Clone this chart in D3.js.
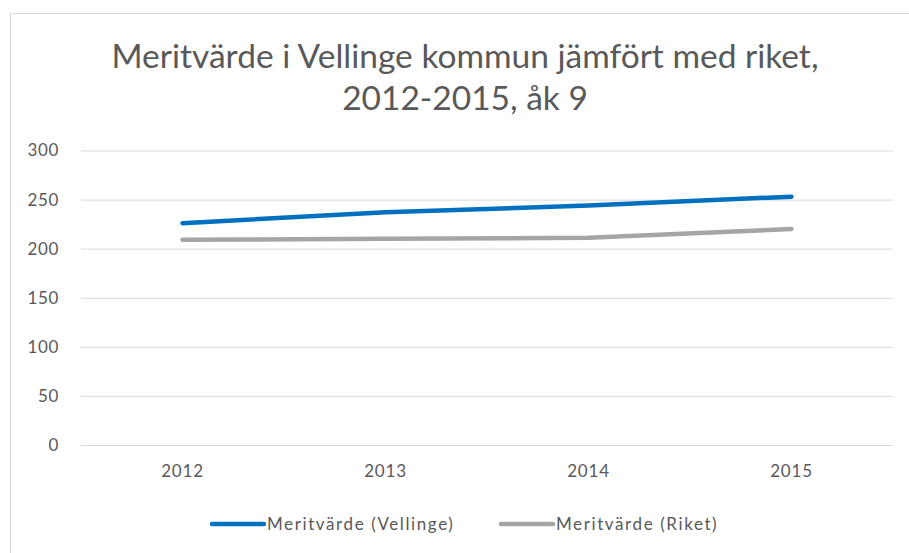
<!DOCTYPE html>
<html>
<head>
<meta charset="utf-8">
<title>Meritvärde</title>
<style>
body { margin: 0; background: #fff; }
svg text { font-family: Lato, "Open Sans", sans-serif; }
</style>
</head>
<body>
<svg width="909" height="553"></svg>
<script src="https://d3js.org/d3.v7.min.js"></script>
<script>
// data
var years = ["2012", "2013", "2014", "2015"];
var vellinge = [226, 237, 244, 253];
var riket = [209, 210, 211, 220];
var yTicks = [0, 50, 100, 150, 200, 250, 300];
var titleLines = ["Meritvärde  i Vellinge kommun jämfört med riket,", "2012-2015, åk 9"];
var seriesNames = ["Meritvärde (Vellinge)", "Meritvärde (Riket)"];
var seriesColors = ["#0070c0", "#a5a5a5"];

var svg = d3.select("svg");

// chart frame
svg.append("rect")
    .attr("x", 10.5).attr("y", 13.5)
    .attr("width", 950).attr("height", 600)
    .style("fill", "#fff")
    .style("stroke", "#d9d9d9");

var x = d3.scaleBand().domain(years).range([81, 893]);
var y = d3.scaleLinear().domain([0, 300]).range([445, 150.5]);

// title
svg.selectAll(".title")
    .data(titleLines)
    .enter()
    .append("text")
    .attr("class", "title")
    .attr("x", 465)
    .attr("y", (d, i) => 68 + i * 42)
    .attr("text-anchor", "middle")
    .style("font-size", "33.5px")
    .style("fill", "#595959")
    .text(d => d);

// gridlines + y labels
var yAxis = d3.axisLeft(y).tickValues(yTicks).tickSize(-(893 - 81)).tickPadding(22);
var gy = svg.append("g").attr("transform", "translate(81,0)").call(yAxis);
gy.select(".domain").remove();
gy.selectAll(".tick line").style("stroke", "#d9d9d9").style("stroke-width", 1);
gy.selectAll(".tick text")
    .style("font-size", "17px")
    .style("letter-spacing", "0.6px")
    .style("fill", "#595959")
    .style("font-family", "Lato, sans-serif");

// x labels
var xAxis = d3.axisBottom(x).tickSize(0).tickPadding(20);
var gx = svg.append("g").attr("transform", "translate(0,445)").call(xAxis);
gx.select(".domain").remove();
gx.selectAll(".tick text")
    .style("font-size", "17px")
    .style("letter-spacing", "0.8px")
    .style("fill", "#595959")
    .style("font-family", "Lato, sans-serif");

var line = d3.line()
    .x((d, i) => x(years[i]) + x.bandwidth() / 2)
    .y(d => y(d));

[vellinge, riket].forEach(function(s, i) {
    svg.append("path")
        .attr("d", line(s))
        .style("fill", "none")
        .style("stroke", seriesColors[i])
        .style("stroke-width", 4.5)
        .style("stroke-linecap", "round")
        .style("stroke-linejoin", "round");
});

// legend
var legendX = [212, 501];
var lg = svg.selectAll(".legend")
    .data(seriesNames)
    .enter()
    .append("g")
    .attr("class", "legend")
    .attr("transform", (d, i) => `translate(${legendX[i]},524)`);
lg.append("line")
    .attr("x1", 0).attr("x2", 52)
    .style("stroke", (d, i) => seriesColors[i])
    .style("stroke-width", 4.5)
    .style("stroke-linecap", "round");
lg.append("text")
    .attr("x", 55)
    .attr("y", 6)
    .style("font-size", "17px")
    .style("letter-spacing", "1.6px")
    .style("fill", "#595959")
    .text(d => d);
</script>
</body>
</html>
